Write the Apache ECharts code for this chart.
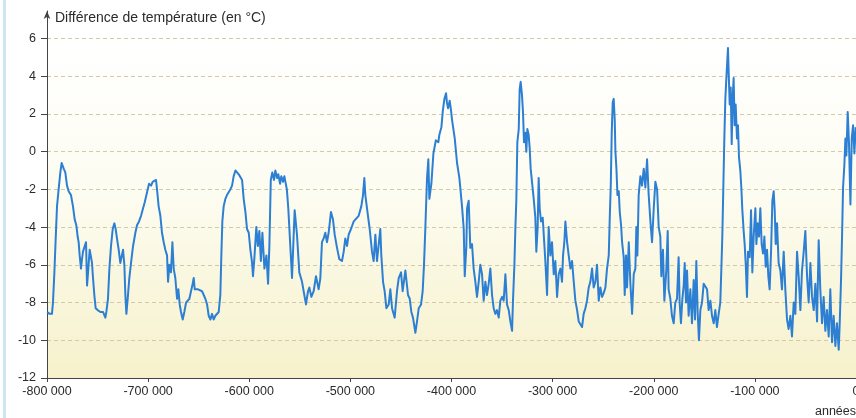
<!DOCTYPE html>
<html>
<head>
<meta charset="utf-8">
<script src="https://cdn.jsdelivr.net/npm/echarts@6/dist/echarts.min.js"></script>
<style>
  html, body { margin: 0; padding: 0; background: #ffffff; }
  #chart { width: 856px; height: 418px; }
</style>
</head>
<body>
<div id="chart"></div>
<script>
// Antarctic ice-core temperature record: age in thousands of years (negative = before present)
const ageKyr = [
  -799.8, -797.5, -795.1, -794.1, -792.7, -791.4, -790.1, -788.5, -786.8, -785.5,
  -784.8, -783.5, -781.9, -780.2, -778.6, -776.3, -774.3, -772.6, -771.0, -769.7,
  -768.7, -767.7, -766.4, -765.4, -764.4, -762.7, -761.4, -760.4, -759.4, -757.8,
  -756.5, -755.5, -754.5, -753.2, -751.9, -749.9, -747.2, -744.6, -742.3, -741.3,
  -739.7, -738.3, -736.7, -735.0, -733.4, -732.1, -730.8, -729.1, -727.5, -726.1,
  -724.8, -723.5, -722.5, -721.5, -720.2, -718.6, -716.9, -714.9, -712.6, -711.0,
  -709.0, -707.0, -705.0, -703.4, -701.7, -700.4, -699.1, -697.1, -695.5, -693.8,
  -692.2, -691.2, -689.6, -687.9, -686.3, -684.6, -683.0, -681.3, -680.3, -679.0,
  -677.4, -676.0, -674.7, -673.1, -671.4, -670.1, -668.8, -667.5, -665.8, -664.2,
  -662.5, -660.9, -659.2, -657.6, -656.3, -654.9, -653.9, -652.3, -650.6, -649.0,
  -646.7, -645.0, -643.4, -641.7, -640.1, -638.4, -636.8, -635.2, -633.5, -631.9,
  -630.2, -628.6, -627.6, -626.6, -625.3, -623.6, -622.0, -620.3, -618.7, -617.0,
  -615.4, -613.7, -612.1, -610.4, -608.8, -607.1, -605.5, -603.8, -602.2, -600.5,
  -598.9, -597.2, -596.3, -595.0, -593.0, -591.5, -590.0, -588.5, -587.0, -585.0,
  -583.0, -581.4, -580.1, -578.7, -577.2, -575.5, -574.2, -572.5, -571.3, -569.5,
  -568.3, -566.5, -565.3, -562.8, -561.4, -557.7, -555.1, -552.8, -550.5, -547.8,
  -546.2, -543.9, -541.9, -540.6, -538.6, -536.3, -534.0, -531.4, -529.7, -528.1,
  -526.4, -524.8, -523.1, -521.5, -519.2, -517.2, -515.5, -513.2, -510.9, -508.3,
  -506.6, -505.0, -503.3, -501.7, -499.4, -496.7, -495.1, -491.8, -489.2, -487.5,
  -486.2, -485.2, -482.6, -480.9, -478.6, -477.0, -475.3, -473.7, -470.4, -469.4,
  -467.7, -466.1, -464.4, -462.1, -460.5, -458.8, -456.2, -453.9, -452.2, -449.9,
  -448.3, -445.6, -443.0, -441.3, -439.7, -438.1, -435.7, -434.1, -432.4, -430.1,
  -428.5, -427.2, -425.9, -424.2, -422.9, -421.9, -419.9, -417.9, -415.5, -413.0,
  -412.0, -410.0, -408.5, -407.0, -405.4, -404.5, -403.4, -401.8, -400.5, -399.5,
  -396.8, -394.5, -392.2, -389.6, -387.9, -386.9, -385.3, -384.6, -383.0, -381.4,
  -379.7, -378.1, -376.4, -374.8, -373.1, -371.5, -369.8, -368.2, -366.5, -364.9,
  -363.2, -361.6, -359.9, -358.3, -356.6, -355.0, -353.3, -351.7, -350.0, -348.4,
  -346.7, -345.1, -343.4, -341.8, -340.1, -339.2, -337.8, -336.8, -335.9, -334.9,
  -333.5, -332.6, -331.6, -330.3, -329.3, -328.3, -327.0, -326.0, -325.0, -323.7,
  -322.7, -321.7, -320.4, -318.7, -317.1, -316.1, -314.8, -313.8, -312.8, -311.5,
  -309.8, -308.2, -307.2, -305.5, -303.9, -302.2, -300.6, -298.9, -297.3, -295.6,
  -294.0, -292.3, -290.7, -289.7, -288.4, -287.4, -285.7, -284.1, -282.4, -280.8,
  -279.1, -277.5, -275.8, -274.2, -272.6, -270.9, -269.3, -267.6, -266.0, -264.3,
  -262.7, -261.0, -259.4, -257.7, -256.1, -254.4, -252.8, -251.1, -249.5, -247.8,
  -246.2, -244.5, -243.5, -242.5, -241.6, -240.6, -239.6, -238.6, -237.9, -236.9,
  -235.9, -234.6, -233.6, -232.3, -231.3, -229.7, -228.7, -227.4, -226.4, -224.7,
  -223.1, -221.4, -219.8, -218.2, -217.2, -216.2, -214.9, -213.2, -211.6, -209.9,
  -208.3, -206.6, -205.0, -203.3, -201.7, -200.0, -198.4, -196.7, -195.1, -193.5,
  -192.5, -190.9, -189.5, -187.6, -186.2, -185.3, -183.6, -182.0, -180.3, -178.7,
  -177.0, -175.4, -174.4, -173.1, -171.7, -170.4, -169.4, -168.1, -167.1, -165.5,
  -163.8, -162.2, -160.5, -159.2, -157.9, -156.6, -155.3, -153.9, -152.3, -150.6,
  -149.0, -147.3, -145.7, -144.0, -142.4, -140.7, -139.1, -137.5, -135.8, -134.2,
  -133.2, -132.2, -131.2, -130.2, -129.2, -128.2, -127.2, -126.6, -125.9, -124.9,
  -123.9, -122.9, -122.0, -121.0, -120.0, -119.0, -117.7, -116.7, -115.7, -114.4,
  -113.4, -112.4, -111.1, -110.1, -109.1, -107.8, -106.8, -105.1, -103.8, -102.5,
  -101.2, -99.5, -98.5, -97.2, -95.9, -94.6, -93.3, -91.9, -90.6, -89.3,
  -88.0, -86.7, -85.4, -84.0, -82.7, -81.4, -80.4, -79.4, -78.1, -76.5,
  -74.8, -73.2, -71.5, -69.9, -68.2, -66.6, -64.9, -63.3, -61.6, -60.0,
  -58.3, -56.7, -55.0, -53.4, -51.7, -50.1, -48.4, -46.8, -45.1, -43.5,
  -41.8, -40.2, -38.5, -36.9, -35.3, -33.6, -32.0, -30.3, -28.7, -27.0,
  -25.4, -23.7, -22.1, -20.4, -18.8, -17.1, -16.1, -14.8, -13.8, -12.8,
  -11.5, -10.5, -9.5, -8.2, -6.9, -5.5, -4.2, -2.9, -1.6, -0.3
];

// Temperature difference (°C), one value per age above
const tempC = [
  -8.5, -8.6, -8.6, -8.0, -6.4, -4.6, -2.9, -2.0, -1.1, -0.6,
  -0.5, -0.9, -1.1, -1.8, -2.1, -2.3, -2.9, -3.6, -3.9, -4.5,
  -4.8, -5.5, -6.2, -5.7, -5.3, -5.0, -4.8, -7.1, -6.4, -5.2,
  -5.3, -5.9, -6.7, -7.6, -8.3, -8.4, -8.5, -8.5, -8.8, -8.5,
  -7.8, -6.2, -5.0, -4.1, -3.8, -4.1, -4.6, -5.2, -5.9, -5.9,
  -5.2, -6.0, -7.6, -8.6, -7.8, -6.7, -5.9, -5.0, -4.3, -3.9,
  -3.7, -3.4, -3.0, -2.7, -2.3, -2.0, -1.7, -1.8, -1.6, -1.7,
  -1.5, -2.0, -2.9, -3.4, -4.3, -4.8, -5.2, -5.5, -6.9, -6.0,
  -6.4, -4.8, -6.2, -6.7, -7.8, -7.3, -8.1, -8.5, -8.9, -8.5,
  -8.0, -8.1, -7.8, -7.4, -7.1, -6.7, -7.3, -7.4, -7.3, -7.4,
  -7.4, -7.6, -7.8, -8.1, -8.7, -8.9, -8.6, -8.9, -8.7, -8.8,
  -8.5, -7.6, -5.5, -3.7, -2.9, -2.5, -2.3, -2.2, -2.0, -1.8,
  -1.3, -1.0, -1.1, -1.2, -1.2, -1.5, -2.5, -3.2, -4.1, -4.3,
  -5.2, -5.9, -6.6, -5.7, -4.0, -5.0, -4.2, -5.8, -4.3, -6.2,
  -5.5, -7.0, -5.0, -1.5, -1.1, -1.5, -1.0, -1.4, -1.2, -1.7,
  -1.3, -1.6, -1.3, -2.0, -3.0, -6.7, -3.1, -4.4, -6.4, -6.9,
  -7.4, -8.1, -7.4, -7.2, -7.7, -7.4, -6.6, -7.3, -6.7, -4.8,
  -4.6, -4.3, -4.8, -4.3, -3.2, -3.6, -4.4, -5.1, -5.7, -5.8,
  -5.3, -4.6, -5.0, -4.4, -4.1, -3.7, -3.6, -3.4, -2.9, -2.3,
  -1.4, -2.3, -3.4, -4.1, -5.3, -5.8, -4.4, -5.8, -4.1, -5.5,
  -6.9, -7.4, -8.3, -8.1, -7.3, -8.3, -8.8, -7.4, -6.7, -6.4,
  -7.4, -6.3, -7.6, -7.8, -8.5, -8.8, -9.6, -9.0, -8.3, -8.1,
  -7.4, -6.0, -4.1, -1.4, -0.4, -2.5, -1.7, -0.1, 0.6, 0.5,
  0.9, 1.3, 2.2, 2.8, 3.1, 2.6, 2.3, 2.7, 2.2, 1.7,
  0.7, -0.6, -1.4, -2.9, -4.1, -6.6, -5.0, -3.0, -2.6, -5.1,
  -4.9, -6.2, -6.9, -7.7, -6.9, -6.0, -6.5, -7.9, -6.9, -7.6,
  -7.0, -6.2, -7.6, -8.3, -8.6, -8.4, -8.8, -7.9, -7.7, -7.9,
  -6.5, -8.1, -8.4, -9.0, -9.5, -7.9, -6.0, -4.0, -2.6, 0.5,
  1.2, 3.3, 3.7, 3.0, 2.1, 0.5, 1.0, 0.0, 1.2, 0.9,
  0.2, -0.9, -1.6, -2.5, -3.5, -5.3, -4.0, -1.4, -3.0, -3.7,
  -3.5, -4.9, -5.8, -7.6, -4.0, -5.5, -4.8, -6.5, -5.8, -7.7,
  -6.5, -6.2, -6.9, -5.5, -4.8, -3.7, -4.8, -5.5, -6.2, -5.8,
  -6.9, -7.9, -8.4, -9.0, -9.1, -9.3, -8.6, -8.3, -7.9, -7.2,
  -6.9, -6.2, -7.2, -6.9, -6.0, -7.9, -7.2, -7.7, -7.5, -7.2,
  -6.2, -5.5, -3.5, -1.8, 0.9, 2.6, 2.8, 1.7, 0.0, -0.9,
  -2.3, -2.1, -3.2, -3.9, -4.8, -5.6, -7.6, -5.5, -7.2, -4.8,
  -7.0, -8.6, -6.5, -6.2, -4.0, -5.5, -2.3, -1.3, -1.8, -0.9,
  -1.9, -0.4, -2.3, -3.7, -4.8, -3.0, -1.6, -2.0, -4.0, -4.5,
  -6.6, -5.2, -7.9, -6.3, -4.2, -7.3, -7.8, -8.7, -9.1, -8.0,
  -7.8, -5.6, -8.0, -9.1, -7.8, -7.1, -5.9, -8.0, -6.3, -8.7,
  -7.3, -9.1, -6.8, -8.9, -5.8, -8.5, -10.0, -8.4, -8.0, -7.0,
  -7.0, -7.3, -8.4, -7.9, -8.7, -9.1, -8.4, -9.3, -8.6, -8.0,
  -6.3, -4.5, -1.9, 0.7, 2.8, 3.9, 4.9, 5.5, 4.2, 2.5,
  3.4, 0.4, 2.8, 3.9, 1.4, 2.5, 0.7, 1.4, -0.3, -1.0,
  -1.9, -3.1, -4.2, -4.9, -5.9, -7.7, -5.3, -5.6, -3.1, -6.4,
  -4.5, -3.0, -4.9, -3.8, -4.5, -3.0, -4.9, -5.4, -4.5, -6.1,
  -5.2, -6.6, -7.3, -5.3, -2.6, -2.1, -3.1, -4.9, -3.8, -5.9,
  -6.3, -7.3, -5.3, -7.3, -8.9, -9.4, -8.7, -9.8, -8.0, -8.6,
  -5.3, -6.6, -8.4, -6.3, -5.3, -4.2, -6.6, -8.0, -5.9, -7.7,
  -8.4, -7.0, -9.0, -4.7, -7.3, -9.1, -7.7, -9.5, -8.4, -9.8,
  -7.3, -10.1, -8.7, -10.3, -9.1, -10.5, -9.1, -6.8, -4.5, -1.9,
  -0.7, 0.7, -0.2, 2.1, 0.4, -2.8, 0.7, 1.4, -0.1, 1.3
];

// Axis ranges and tick steps
const xRange = [-800, 0];
const xStep = 100;
const yRange = [-12, 6];
const yStep = 2;

const axisTitle = 'Différence de température (en °C)';
const timeUnit = 'années';

const FONT = '"Liberation Sans", Arial, Helvetica, sans-serif';
const INK = '#2b2b2b';

// "-800 000" style labels (French thousands separator)
function ageLabel(v) {
  if (v === 0) return '0';
  return (v < 0 ? '-' : '') + Math.abs(v) + ' 000';
}

const series = ageKyr.map((a, i) => [a, tempC[i]]);

const chart = echarts.init(document.getElementById('chart'), null, { renderer: 'canvas' });

chart.setOption({
  animation: false,
  backgroundColor: '#ffffff',
  title: {
    text: axisTitle,
    left: 55,
    top: 11,
    padding: 0,
    textStyle: { fontFamily: FONT, fontSize: 14, fontWeight: 'normal', color: INK }
  },
  grid: [
    {
      left: 47, right: 0, top: 38.5, bottom: 40,
      outerBoundsMode: 'none', containLabel: false,
      show: true, borderWidth: 0,
      backgroundColor: new echarts.graphic.LinearGradient(0, 0, 0, 1, [
        { offset: 0, color: '#ffffff' },
        { offset: 0.45, color: '#fdfcf1' },
        { offset: 1, color: '#f6f1cb' }
      ])
    },
    // second grid only carries the tall vertical axis with its arrow head
    { left: 47, right: 0, top: 11, bottom: 40, outerBoundsMode: 'none', containLabel: false }
  ],
  xAxis: [
    {
      type: 'value', gridIndex: 0,
      min: xRange[0], max: xRange[1], interval: xStep,
      name: timeUnit, nameLocation: 'end', nameGap: -41,
      nameTextStyle: { fontFamily: FONT, fontSize: 12.5, color: INK, align: 'left', verticalAlign: 'top', padding: [27, 0, 0, 0] },
      axisLine: { show: true, onZero: false, lineStyle: { color: '#444', width: 1 } },
      axisTick: { show: true, inside: false, length: 4, lineStyle: { color: '#444' } },
      axisLabel: { formatter: ageLabel, fontFamily: FONT, fontSize: 12.5, color: INK, margin: 7, hideOverlap: false },
      splitLine: { show: false }
    },
    { type: 'value', gridIndex: 1, show: false, min: 0, max: 1 }
  ],
  yAxis: [
    {
      type: 'value', gridIndex: 0,
      min: yRange[0], max: yRange[1], interval: yStep,
      axisLine: { show: false, onZero: false },
      axisTick: { show: true, inside: false, length: 6, lineStyle: { color: '#444' } },
      axisLabel: { fontFamily: FONT, fontSize: 12.5, color: INK, margin: 11 },
      splitLine: { show: true, showMinLine: false, lineStyle: { color: '#d3caa8', type: [4, 3], width: 1 } }
    },
    {
      type: 'value', gridIndex: 1, min: 0, max: 1,
      axisLine: { show: true, onZero: false, symbol: ['none', 'arrow'], symbolSize: [5, 8], symbolOffset: [0, 0], lineStyle: { color: '#444', width: 1 } },
      axisTick: { show: false },
      axisLabel: { show: false },
      splitLine: { show: false }
    }
  ],
  graphic: [
    // pale blue page edge along the left border
    { type: 'rect', left: 3, top: 0, shape: { width: 3, height: 418 }, style: { fill: '#cde6f1' }, silent: true }
  ],
  series: [
    {
      type: 'line',
      xAxisIndex: 0, yAxisIndex: 0,
      data: series,
      showSymbol: false,
      lineStyle: { color: '#2c7fd2', width: 2, join: 'round' },
      z: 5
    }
  ]
});
</script>
</body>
</html>
